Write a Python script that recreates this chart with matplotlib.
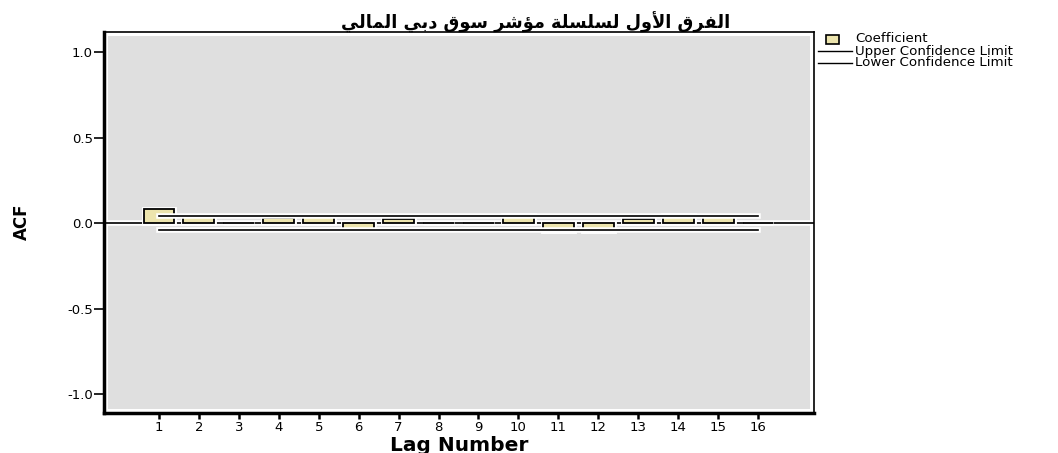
import matplotlib.pyplot as plt
import matplotlib.patheffects as pe
from matplotlib.patches import Rectangle
from matplotlib.lines import Line2D
import numpy as np

# ACF values
lags = np.arange(1, 17)
acf = [0.082, 0.033, 0.003, 0.027, 0.033, -0.037, 0.022, -0.002,
       0.002, 0.047, -0.045, -0.045, 0.022, 0.048, 0.033, 0.003]
upper = [0.044] * 16
lower = [-0.043] * 16
yticks = [1.0, 0.5, 0.0, -0.5, -1.0]

title = "الفرق الأول لسلسلة مؤشر سوق دبي المالي"

# small shaper, matplotlib does no arabic joining by itself
forms = {
    'ا': ('\uFE8D', '\uFE8E', None, None),
    'أ': ('\uFE83', '\uFE84', None, None),
    'ب': ('\uFE8F', '\uFE90', '\uFE91', '\uFE92'),
    'ة': ('\uFE93', '\uFE94', None, None),
    'د': ('\uFEA9', '\uFEAA', None, None),
    'ر': ('\uFEAD', '\uFEAE', None, None),
    'س': ('\uFEB1', '\uFEB2', '\uFEB3', '\uFEB4'),
    'ش': ('\uFEB5', '\uFEB6', '\uFEB7', '\uFEB8'),
    'ف': ('\uFED1', '\uFED2', '\uFED3', '\uFED4'),
    'ق': ('\uFED5', '\uFED6', '\uFED7', '\uFED8'),
    'ل': ('\uFEDD', '\uFEDE', '\uFEDF', '\uFEE0'),
    'م': ('\uFEE1', '\uFEE2', '\uFEE3', '\uFEE4'),
    'و': ('\uFEED', '\uFEEE', None, None),
    'ؤ': ('\uFE85', '\uFE86', None, None),
    'ي': ('\uFEF1', '\uFEF2', '\uFEF3', '\uFEF4'),
}
lamalef = {'ا': ('\uFEFB', '\uFEFC'), 'أ': ('\uFEF7', '\uFEF8')}


def shape(word):
    # lam + alef ligatures first
    chars = []
    i = 0
    while i < len(word):
        if word[i] == 'ل' and i + 1 < len(word) and word[i + 1] in lamalef:
            chars.append(('LA', word[i + 1]))
            i += 2
        else:
            chars.append(('C', word[i]))
            i += 1

    def joins_left(c):  # can connect to the following letter
        if c[0] == 'LA':
            return False
        return forms[c[1]][2] is not None

    out = []
    for k, c in enumerate(chars):
        prev_j = k > 0 and joins_left(chars[k - 1])
        next_ok = k + 1 < len(chars)
        if c[0] == 'LA':
            out.append(lamalef[c[1]][1 if prev_j else 0])
            continue
        f = forms[c[1]]
        can_next = next_ok and f[2] is not None
        if prev_j and can_next:
            out.append(f[3])
        elif prev_j:
            out.append(f[1])
        elif can_next:
            out.append(f[2])
        else:
            out.append(f[0])
    return ''.join(reversed(out))


title_vis = ' '.join(shape(w) for w in reversed(title.split()))

# the original is a wide arial, dejavu is the closest in width
plt.rcParams['font.family'] = ['DejaVu Sans']

fig = plt.figure(figsize=(10.58, 4.53), dpi=100)
ax = fig.add_axes([104 / 1058, 40 / 453, 710 / 1058, 381 / 453])
ax.set_facecolor('white')
ax.add_patch(Rectangle((0.006, 0.01), 0.988, 0.98, transform=ax.transAxes,
                       facecolor='#dfdfdf', edgecolor='none', zorder=0))

halo = [pe.Stroke(linewidth=4, foreground='white'), pe.Normal()]

ax.axhline(0, color='black', lw=1.2, zorder=2, path_effects=halo)
bars = ax.bar(lags, acf, width=0.77, color='#ece4ad', edgecolor='black',
              linewidth=1.3, zorder=3)
for b in bars:
    b.set_path_effects([pe.Stroke(linewidth=3.5, foreground='white'), pe.Normal()])
ax.plot(lags, upper, color='black', lw=1.2, zorder=4, path_effects=halo)
ax.plot(lags, lower, color='black', lw=1.2, zorder=4, path_effects=halo)

ax.set_xlim(-0.375, 17.4)
ax.set_ylim(-1.11, 1.117)
ax.set_xticks(lags)
ax.set_yticks(yticks)
ax.set_yticklabels([f'{v:.1f}' for v in yticks])
ax.tick_params(axis='y', direction='out', length=7, width=1.2, labelsize=9.5, pad=1)
ax.tick_params(axis='x', direction='out', length=4, width=1.8, labelsize=9.5, pad=2)

for s in ['left', 'bottom']:
    ax.spines[s].set_linewidth(2.5)
for s in ['top', 'right']:
    ax.spines[s].set_linewidth(1.2)

fig.text(459 / 1058, 1 - 451 / 453, 'Lag Number', ha='center', va='baseline',
         fontsize=14.5, fontweight='bold')
fig.text(22 / 1058, 1 - 222 / 453, 'ACF', ha='center', va='center',
         rotation=90, fontsize=12, fontweight='bold')

fig.text(536 / 1058, 1 - 22 / 453, title_vis, ha='center', va='center',
         fontsize=12.8, fontweight='bold')

# legend drawn by hand, sits to the right of the frame
fig.add_artist(Rectangle((826 / 1058, 1 - 44 / 453), 13 / 1058, 9 / 453,
                         transform=fig.transFigure, facecolor='#ece4ad',
                         edgecolor='black', lw=1.2))
fig.add_artist(Line2D([818 / 1058, 852 / 1058], [1 - 51 / 453] * 2,
                      transform=fig.transFigure, color='black', lw=1))
fig.add_artist(Line2D([818 / 1058, 852 / 1058], [1 - 63 / 453] * 2,
                      transform=fig.transFigure, color='black', lw=1))
for y, txt in [(39, 'Coefficient'), (51, 'Upper Confidence Limit'),
               (63, 'Lower Confidence Limit')]:
    fig.text(855 / 1058, 1 - y / 453, txt, ha='left', va='center', fontsize=9.6)

fig.savefig('out.png', dpi=100)
